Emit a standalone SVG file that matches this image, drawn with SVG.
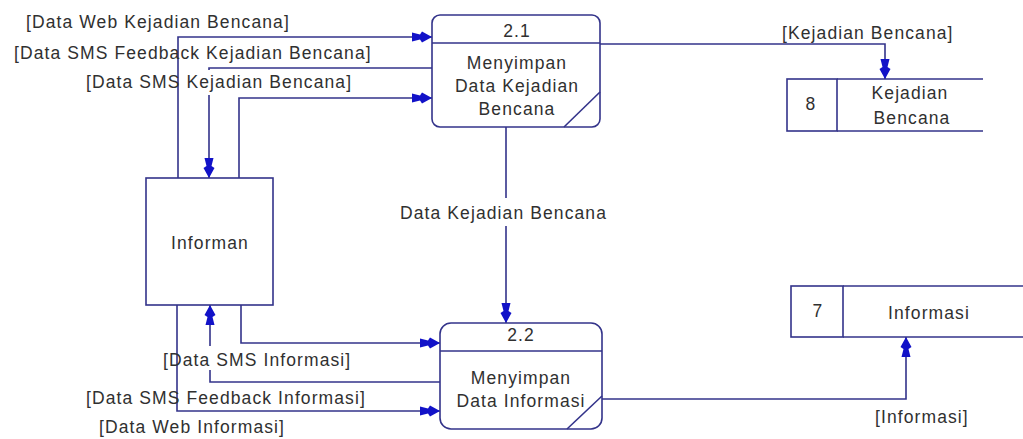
<svg xmlns="http://www.w3.org/2000/svg" width="1023" height="439" viewBox="0 0 1023 439">
  <style>
    .shape { fill: #ffffff; stroke: #33338a; stroke-width: 1.6; }
    .edge { fill: none; stroke: #33338a; stroke-width: 1.6; }
    .flow { fill: none; stroke: #33338a; stroke-width: 1.6; marker-end: url(#arrow); }
    text { font-family: "Liberation Sans", Arial, sans-serif; font-size: 17.5px; fill: #303030; letter-spacing: 1.1px; }
    .c { text-anchor: middle; }
  </style>
  <defs>
    <marker id="arrow" viewBox="0 0 20 12" markerWidth="20" markerHeight="12" refX="20" refY="6" orient="auto" markerUnits="userSpaceOnUse">
      <path d="M20,6 L10,0.5 L8,3.5 L0,1.5 L0,10.5 L8,8.5 L10,11.5 Z" fill="#1212c8"/>
    </marker>
  </defs>
  <rect width="1023" height="439" fill="#ffffff"/>

  <!-- data flows -->
  <g id="connectors">
    <path class="flow" d="M178,178 V37 H432"/>
    <path class="flow" d="M432,68 H209 V70 M209,95 V178"/>
    <path class="flow" d="M239,178 V98 H432"/>
    <path class="flow" d="M600,44 H885 V79"/>
    <path class="flow" d="M506,127 V198 M506,226 V323"/>
    <path class="flow" d="M241,305 V343 H440"/>
    <path class="flow" d="M440,382 H210 V370 M210,346 V305"/>
    <path class="flow" d="M177,305 V411 H440"/>
    <path class="flow" d="M602,399 H906 V337"/>
  </g>

  <!-- flow labels -->
  <g id="labels">
    <text x="26" y="28">[Data Web Kejadian Bencana]</text>
    <text x="14" y="59">[Data SMS Feedback Kejadian Bencana]</text>
    <text x="86" y="88">[Data SMS Kejadian Bencana]</text>
    <text x="782" y="39">[Kejadian Bencana]</text>
    <text x="400" y="219">Data Kejadian Bencana</text>
    <text x="163" y="366">[Data SMS Informasi]</text>
    <text x="86" y="404">[Data SMS Feedback Informasi]</text>
    <text x="99" y="433">[Data Web Informasi]</text>
    <text x="875" y="423">[Informasi]</text>
  </g>

  <!-- external entity -->
  <g id="informan">
    <rect class="shape" x="146" y="178" width="127" height="127"/>
    <text class="c" x="210" y="249">Informan</text>
  </g>

  <!-- process 2.1 -->
  <g id="proc-2-1">
    <rect class="shape" x="432" y="15" width="168" height="112" rx="8" ry="8"/>
    <line class="edge" x1="432" y1="43" x2="600" y2="43"/>
    <line class="edge" x1="564" y1="127" x2="600" y2="92"/>
    <text class="c" x="517" y="37">2.1</text>
    <text class="c" x="517" y="69">Menyimpan</text>
    <text class="c" x="517" y="92">Data Kejadian</text>
    <text class="c" x="517" y="115">Bencana</text>
  </g>

  <!-- process 2.2 -->
  <g id="proc-2-2">
    <rect class="shape" x="440" y="323" width="162" height="106" rx="11" ry="11"/>
    <line class="edge" x1="440" y1="351" x2="602" y2="351"/>
    <line class="edge" x1="567" y1="429" x2="602" y2="396"/>
    <text class="c" x="521" y="341">2.2</text>
    <text class="c" x="521" y="384">Menyimpan</text>
    <text class="c" x="521" y="407">Data Informasi</text>
  </g>

  <!-- data store 8 -->
  <g id="store-8">
    <rect class="shape" x="787" y="79" width="50" height="52"/>
    <line class="edge" x1="837" y1="79" x2="983" y2="79"/>
    <line class="edge" x1="837" y1="131" x2="983" y2="131"/>
    <text class="c" x="811" y="110">8</text>
    <text class="c" x="910" y="99">Kejadian</text>
    <text class="c" x="912" y="124">Bencana</text>
  </g>

  <!-- data store 7 -->
  <g id="store-7">
    <rect class="shape" x="791" y="286" width="52" height="51"/>
    <line class="edge" x1="843" y1="286" x2="1023" y2="286"/>
    <line class="edge" x1="843" y1="337" x2="1023" y2="337"/>
    <text class="c" x="818" y="317">7</text>
    <text class="c" x="929" y="319">Informasi</text>
  </g>
</svg>
